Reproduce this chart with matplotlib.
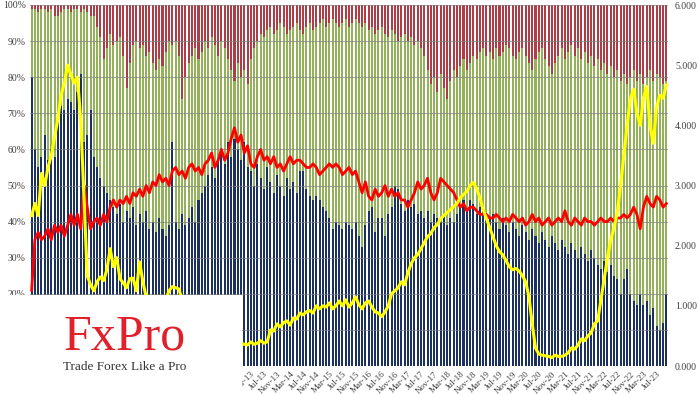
import numpy as np
import pandas as pd
import matplotlib
matplotlib.use("Agg")
import matplotlib.pyplot as plt
from matplotlib.patches import Rectangle

# monthly observations, Aug-07 .. Oct-23
months = pd.date_range("2007-08-01", periods=195, freq="MS")

# share of the bottom (blue) bar, %
blue_pct = [
    80, 60, 55, 58, 64, 57, 60, 58, 70, 72,
    71, 74, 73, 71, 76, 81, 62, 64, 71, 58,
    55, 52, 50, 48, 46, 44, 42, 45, 40, 43,
    41, 44, 39, 42, 40, 43, 38, 40, 37, 41,
    38, 36, 39, 62, 40, 38, 42, 39, 41, 44,
    40, 46, 48, 50, 53, 55, 52, 57, 60, 56,
    62, 58, 63, 60, 57, 62, 55, 54, 50, 56,
    52, 49, 55, 51, 48, 53, 50, 47, 52, 49,
    51, 48, 54, 54, 49, 47, 46, 47, 46, 44,
    43, 41, 38, 40, 39, 38, 40, 39, 38, 40,
    36, 33, 39, 43, 44, 37, 41, 41, 36, 42,
    44, 50, 49, 45, 43, 46, 44, 45, 42, 43,
    41, 43, 40, 42, 41, 40, 42, 39, 41, 40,
    42, 44, 46, 43, 46, 45, 42, 44, 43, 42,
    41, 42, 40, 38, 41, 39, 37, 40, 38, 36,
    39, 37, 35, 38, 36, 34, 37, 35, 33, 36,
    34, 32, 35, 33, 31, 34, 32, 30, 33, 31,
    29, 32, 30, 28, 27, 29, 26, 28, 25, 24,
    20, 24, 27, 20, 18, 17, 20, 17, 18, 14,
    16, 11, 10, 12, 20,
]

# share of the top (red) bar, %
red_pct = [
    1, 1, 2, 1, 1, 2, 1, 3, 3, 2,
    1, 1, 2, 1, 1, 2, 1, 2, 3, 3,
    6, 9, 15, 12, 8, 11, 10, 9, 14, 23,
    16, 11, 10, 12, 11, 14, 13, 16, 18, 15,
    17, 13, 10, 11, 10, 14, 26, 20, 16, 14,
    12, 15, 13, 10, 12, 9, 11, 14, 10, 12,
    15, 18, 21, 16, 20, 18, 22, 15, 12, 10,
    8, 9, 7, 6, 8, 7, 5, 6, 8, 7,
    6, 5, 7, 8, 6, 5, 7, 6, 5, 4,
    6, 5, 4, 5, 6, 5, 4, 6, 5, 4,
    5, 6, 5, 7, 6, 8, 7, 6, 8, 9,
    7, 8, 10, 9, 8, 10, 9, 11, 10, 12,
    14, 18, 22, 20, 24, 19, 23, 26, 21, 18,
    20, 17, 15, 18, 16, 14, 15, 13, 12, 14,
    13, 15, 12, 14, 13, 11, 12, 14, 15, 13,
    12, 14, 16, 18, 15, 13, 12, 15, 17, 19,
    16, 14, 12, 15, 13, 11, 14, 12, 15, 13,
    16, 14, 17, 15, 18, 16, 19, 17, 20, 18,
    21, 19, 22, 20, 18, 21, 19, 22, 20, 18,
    21, 19, 20, 22, 21,
]

# red line, left axis (%)
red_line = [
    21, 35, 37, 35, 36, 38, 35, 39, 37, 39,
    36, 39, 42, 39, 42, 38, 50, 44, 38, 40,
    41, 39, 42, 40, 44, 46, 44, 46, 45, 47,
    45, 48, 47, 49, 47, 50, 48, 51, 50, 53,
    51, 52, 50, 54, 55, 53, 54, 52, 55, 56,
    54, 55, 53, 56, 57, 59, 55, 57, 60, 57,
    59, 63, 66, 62, 64, 59, 61, 56, 55, 58,
    60, 57, 58, 56, 58, 55, 56, 54, 56, 58,
    56, 57, 57, 56, 55, 55, 56, 55, 53, 54,
    55, 56, 55, 56, 55, 53, 54, 55, 53, 54,
    51, 48, 51, 47, 46, 49, 47, 48, 50, 47,
    49, 47, 48, 46, 46, 44, 46, 48, 51, 49,
    50, 52, 48, 46, 48, 52, 51, 50, 49, 48,
    46, 44, 45, 43, 44, 44, 43, 42, 42, 42,
    41, 41, 42, 41, 40, 41, 40, 42, 41, 40,
    41, 39, 40, 42, 40, 41, 39, 40, 41, 39,
    40, 41, 40, 43, 40, 39, 41, 40, 39, 41,
    40, 40, 39, 40, 41, 40, 40, 41, 40, 41,
    41, 42, 41, 42, 44, 42, 38, 44, 47, 45,
    44, 47, 46, 44, 45,
]

# yellow line, right axis
yellow_line = [
    2.5, 2.7, 2.5, 3.2, 3.0, 3.3, 3.5, 3.8, 4.1, 4.5,
    4.7, 5.0, 4.85, 4.7, 4.8, 4.1, 2.8, 1.5, 1.35, 1.25,
    1.4, 1.48, 1.42, 1.6, 1.95, 1.65, 1.8, 1.45, 1.38, 1.3,
    1.45, 1.46, 1.25, 1.73, 1.4, 1.15, 0.95, 0.85, 0.9, 1.0,
    1.05, 1.1, 1.25, 1.32, 1.3, 1.28, 1.1, 0.9, 0.75, 0.7,
    0.6, 0.55, 0.5, 0.45, 0.4, 0.4, 0.35, 0.3, 0.3, 0.28,
    0.3, 0.32, 0.35, 0.4, 0.38, 0.36, 0.35, 0.4, 0.36, 0.38,
    0.42, 0.38, 0.4, 0.6, 0.58, 0.7, 0.65, 0.72, 0.75, 0.68,
    0.8, 0.78, 0.88, 0.85, 0.9, 0.92, 0.88, 1.0, 0.95, 1.0,
    0.98, 1.05, 0.95, 1.0, 1.08, 1.0, 1.1, 0.98, 1.05, 1.15,
    1.02, 0.95, 1.05, 1.08, 0.98, 0.9, 0.88, 0.82, 0.9, 1.0,
    1.2, 1.25, 1.3, 1.4, 1.35, 1.55, 1.7, 1.8, 1.85, 1.95,
    2.05, 2.15, 2.2, 2.3, 2.35, 2.45, 2.5, 2.55, 2.6, 2.65,
    2.7, 2.8, 2.85, 2.9, 3.0, 3.05, 2.95, 2.8, 2.6, 2.45,
    2.3, 2.15, 2.0, 1.9, 1.85, 1.75, 1.65, 1.6, 1.62, 1.58,
    1.5, 1.4, 1.15, 0.7, 0.3, 0.2, 0.18, 0.17, 0.16, 0.14,
    0.18, 0.16, 0.16, 0.18, 0.22, 0.3, 0.28, 0.35, 0.45, 0.42,
    0.5, 0.55, 0.7, 0.75, 1.1, 1.45, 1.8, 2.1, 2.3, 2.55,
    3.0, 3.5, 4.0, 4.45, 4.6, 4.2, 4.0, 4.45, 4.65, 4.0,
    3.7, 4.3, 4.5, 4.45, 4.67,
]

left_ticks = list(range(0, 101, 10))
right_ticks = [0, 1, 2, 3, 4, 5, 6]


def main():
    blue = np.array(blue_pct, dtype=float)
    red = np.array(red_pct, dtype=float)
    green = 100 - blue - red
    x = np.arange(len(months))

    plt.rcParams["font.family"] = ["Liberation Serif", "DejaVu Serif"]
    fig = plt.figure(figsize=(7, 3.94), dpi=100)
    ax = fig.add_axes([30 / 700, 1 - 366 / 394, 638 / 700, 361 / 394])

    w = 0.62
    ax.bar(x, blue, width=w, color="#1D3160", linewidth=0)
    ax.bar(x, green, width=w, bottom=blue, color="#94B25B", linewidth=0)
    ax.bar(x, red, width=w, bottom=blue + green, color="#AE3D47", linewidth=0)
    ax.plot(x, red_line, color="#FF0000", linewidth=2.0, zorder=4)

    ax.set_xlim(-0.5, len(x) - 0.5)
    ax.set_ylim(0, 100)
    ax.set_axisbelow(False)
    ax.grid(axis="y", color="#7F7F7F", linewidth=0.6, alpha=0.8)
    ax.set_yticks(left_ticks)
    ax.set_yticklabels([f"{t}%" for t in left_ticks])

    pos = [i for i, d in enumerate(months) if d.month in (3, 7, 11)]
    ax.set_xticks(pos)
    ax.set_xticklabels([months[i].strftime("%b-%y") for i in pos],
                       rotation=45, ha="right", rotation_mode="anchor")
    ax.tick_params(axis="x", length=0, pad=3, labelsize=6.5, colors="#404040")
    ax.tick_params(axis="y", length=0, pad=3, labelsize=7, colors="#404040")
    for s in ax.spines.values():
        s.set_visible(False)

    ax2 = ax.twinx()
    ax2.plot(x, yellow_line, color="#FFFF00", linewidth=2.2, zorder=5)
    ax2.set_ylim(0, 6)
    ax2.set_yticks(right_ticks)
    ax2.set_yticklabels([f"{t:.3f}" for t in right_ticks])
    ax2.tick_params(axis="y", length=0, pad=5, labelsize=7, colors="#404040")
    for s in ax2.spines.values():
        s.set_visible(False)

    # logo block in the lower-left corner
    fig.add_artist(Rectangle((0, 0), 242 / 700, 99 / 394, transform=fig.transFigure,
                             facecolor="white", edgecolor="none", zorder=10))
    fig.text(125 / 700, 1 - 337 / 394, "FxPro", color="#E0202A", fontsize=36,
             ha="center", va="center", zorder=11)
    fig.text(125 / 700, 1 - 367 / 394, "Trade Forex Like a Pro", color="#333333",
             fontsize=9.5, ha="center", va="center", zorder=11)

    fig.savefig("out.png", dpi=100)


if __name__ == "__main__":
    main()
